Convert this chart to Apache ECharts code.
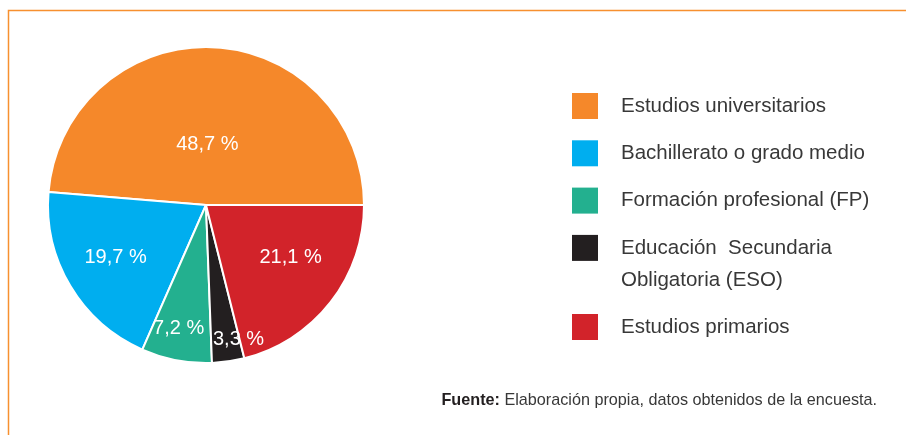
<!DOCTYPE html>
<html>
<head>
<meta charset="utf-8">
<script src="https://cdn.jsdelivr.net/npm/echarts@6/dist/echarts.min.js"></script>
<style>
  html, body { margin: 0; padding: 0; background: #fff; }
  #chart { width: 906px; height: 435px; }
</style>
</head>
<body>
<div id="chart"></div>
<script>
// datos de la encuesta
var categories = [
  'Estudios universitarios',
  'Bachillerato o grado medio',
  'Formación profesional (FP)',
  'Educación Secundaria Obligatoria (ESO)',
  'Estudios primarios'
];
var values = [48.7, 19.7, 7.2, 3.3, 21.1];
var colors = ['#F5882A', '#00AEEF', '#23B08F', '#231F20', '#D2232A'];

// desplazamiento de las etiquetas respecto a la posición "inside"
var labelShift = [[-2, 21], [-20, 11], [-12, 43], [21, 53], [20, 2]];

var myChart = echarts.init(document.getElementById('chart'));

var legendText = {
  fontFamily: 'Liberation Sans',
  fontSize: 20.5,
  color: '#383838',
  padding: [0, 0, 0, 18]
};

var option = {
  animation: false,
  color: colors,
  legend: [
    {
      orient: 'vertical',
      left: 572,
      top: 93,
      padding: 0,
      itemWidth: 26,
      itemHeight: 26,
      itemGap: 21.3,
      icon: 'rect',
      itemStyle: { borderWidth: 0 },
      selectedMode: false,
      data: categories.slice(0, 4),
      formatter: function (name) {
        // la segunda línea va aparte
        return name === categories[3] ? 'Educación  Secundaria' : name;
      },
      textStyle: legendText
    },
    {
      orient: 'vertical',
      left: 572,
      top: 314,
      padding: 0,
      itemWidth: 26,
      itemHeight: 26,
      icon: 'rect',
      itemStyle: { borderWidth: 0 },
      selectedMode: false,
      data: categories.slice(4),
      textStyle: legendText
    }
  ],
  graphic: [
    // marco naranja
    {
      type: 'polyline',
      silent: true,
      shape: { points: [[8.5, 435], [8.5, 10.5], [906, 10.5]] },
      style: { stroke: '#F7902F', lineWidth: 1.5, fill: null }
    },
    {
      type: 'text',
      left: 621,
      top: 270,
      silent: true,
      style: {
        text: 'Obligatoria (ESO)',
        fontFamily: 'Liberation Sans',
        fontSize: 20.5,
        fill: '#383838'
      }
    },
    {
      type: 'text',
      right: 29,
      top: 393,
      silent: true,
      style: {
        text: '{b|Fuente:} Elaboración propia, datos obtenidos de la encuesta.',
        fontFamily: 'Liberation Sans',
        fontSize: 16.2,
        fill: '#383838',
        rich: {
          b: { fontFamily: 'Liberation Sans', fontSize: 16.2, fontWeight: 'bold', fill: '#231F20' }
        }
      }
    }
  ],
  series: [
    {
      type: 'pie',
      center: [206, 205],
      radius: 158,
      startAngle: 0,
      clockwise: false,
      silent: true,
      itemStyle: { borderColor: '#fff', borderWidth: 2 },
      label: {
        show: true,
        position: 'inside',
        color: '#fff',
        fontFamily: 'Liberation Sans',
        fontSize: 20,
        formatter: function (p) {
          return String(p.value).replace('.', ',') + ' %';
        }
      },
      labelLine: { show: false },
      labelLayout: function (p) {
        var s = labelShift[p.dataIndex];
        return { dx: s[0], dy: s[1] };
      },
      data: categories.map(function (name, i) {
        return { name: name, value: values[i] };
      })
    }
  ]
};

myChart.setOption(option, true);
window.onresize = function () {
  myChart.resize();
};
</script>
</body>
</html>
